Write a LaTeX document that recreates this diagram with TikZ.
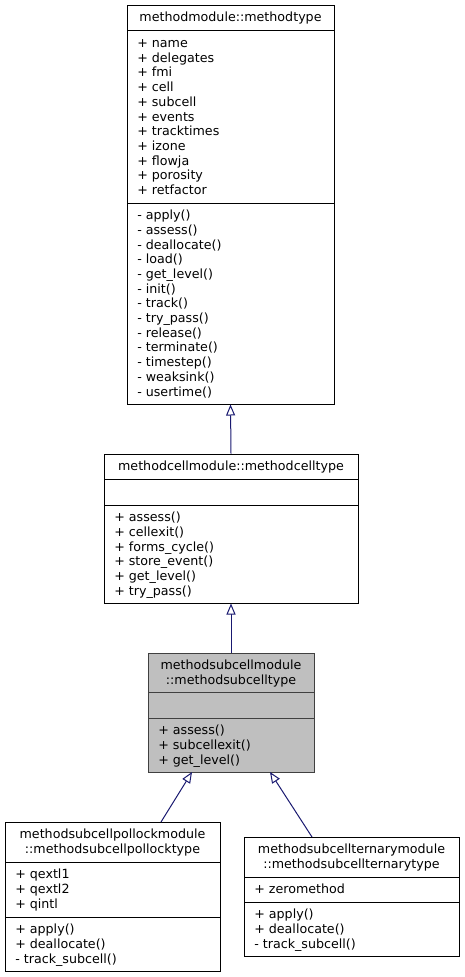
\documentclass[tikz,border=0pt]{standalone}
\usepackage{fontspec}
\setmainfont{DejaVu Sans}
\usetikzlibrary{arrows.meta,fit}
\newcommand\lst[1]{\begin{tabular}[t]{@{}l@{}}#1\end{tabular}}
\newcommand\ctr[1]{\begin{tabular}[t]{@{}c@{}}#1\end{tabular}}
\definecolor{edgeblue}{HTML}{191970}
\definecolor{grayfill}{HTML}{BFBFBF}
\definecolor{grayline}{HTML}{404040}
\tikzset{
  umlbox/.style={draw=black, line width=0.75pt, fill=white, inner sep=0pt},
  graybox/.style={draw=grayline, line width=0.75pt, fill=grayfill, inner sep=0pt},
  sepline/.style={line width=0.75pt},
  txt/.style={inner sep=0pt, font=\fontsize{9.5pt}{11.025pt}\selectfont},
  ttl/.style={txt, anchor=base},
  lines/.style={txt, anchor=base west},
  inherit/.style={draw=edgeblue, line width=0.75pt,
    -{Triangle[open, length=8.25pt, width=6.75pt, fill=white]}},
}
\begin{document}
\begin{tikzpicture}[x=0.75pt, y=-0.75pt]
\useasboundingbox (0,0) rectangle (464,977);

% ---------- methodmodule::methodtype ----------
\node[umlbox, fit={(127,5.5) (334,404)}] (A) {};
\draw[sepline] (127,31) -- (334,31);
\draw[sepline] (127,203) -- (334,203);
\node[ttl] (Atitle) at (230.5,22) {\ctr{methodmodule::methodtype}};
\node[lines] (Aattr) at (137,47.6) {\lst{+ name\\+ delegates\\+ fmi\\+ cell\\+ subcell\\+ events\\+ tracktimes\\+ izone\\+ flowja\\+ porosity\\+ retfactor}};
\node[lines] (Ameth) at (137,219.6) {\lst{- apply()\\- assess()\\- deallocate()\\- load()\\- get\_level()\\- init()\\- track()\\- try\_pass()\\- release()\\- terminate()\\- timestep()\\- weaksink()\\- usertime()}};

% ---------- methodcellmodule::methodcelltype ----------
\node[umlbox, fit={(104,454) (358,603)}] (B) {};
\draw[sepline] (104,479) -- (358,479);
\draw[sepline] (104,505) -- (358,505);
\node[ttl] (Btitle) at (231,470.6) {\ctr{methodcellmodule::methodcelltype}};
\node[lines] (Bmeth) at (114,521.6) {\lst{+ assess()\\+ cellexit()\\+ forms\_cycle()\\+ store\_event()\\+ get\_level()\\+ try\_pass()}};

% ---------- methodsubcellmodule::methodsubcelltype ----------
\node[graybox, fit={(148,653) (314,772)}] (C) {};
\draw[sepline, draw=grayline] (148,692) -- (314,692);
\draw[sepline, draw=grayline] (148,718) -- (314,718);
\node[ttl] (Ctitle) at (231,669.6) {\ctr{methodsubcellmodule\\::methodsubcelltype}};
\node[lines] (Cmeth) at (158,734.6) {\lst{+ assess()\\+ subcellexit()\\+ get\_level()}};

% ---------- pollock ----------
\node[umlbox, fit={(5,822) (220,971)}] (D) {};
\draw[sepline] (5,862) -- (220,862);
\draw[sepline] (5,917) -- (220,917);
\node[ttl] (Dtitle) at (112.5,838.6) {\ctr{methodsubcellpollockmodule\\::methodsubcellpollocktype}};
\node[lines] (Dattr) at (15,878.6) {\lst{+ qextl1\\+ qextl2\\+ qintl}};
\node[lines] (Dmeth) at (15,933.6) {\lst{+ apply()\\+ deallocate()\\- track\_subcell()}};

% ---------- ternary ----------
\node[umlbox, fit={(244,837) (459,956)}] (E) {};
\draw[sepline] (244,877) -- (459,877);
\draw[sepline] (244,902) -- (459,902);
\node[ttl] (Etitle) at (351.5,853.6) {\ctr{methodsubcellternarymodule\\::methodsubcellternarytype}};
\node[lines] (Eattr) at (254,893.6) {\lst{+ zeromethod}};
\node[lines] (Emeth) at (254,918.6) {\lst{+ apply()\\+ deallocate()\\- track\_subcell()}};

% ---------- connectors ----------
\coordinate (Dtop) at (161,822);
\coordinate (CtipL) at (192,772);
\coordinate (Etop) at (312,837);
\coordinate (CtipR) at (270,772);
\draw[inherit] (B.north) -- (A.south);
\draw[inherit] (C.north) -- (B.south);
\draw[inherit] (Dtop) -- (CtipL);
\draw[inherit] (Etop) -- (CtipR);
\end{tikzpicture}
\end{document}
